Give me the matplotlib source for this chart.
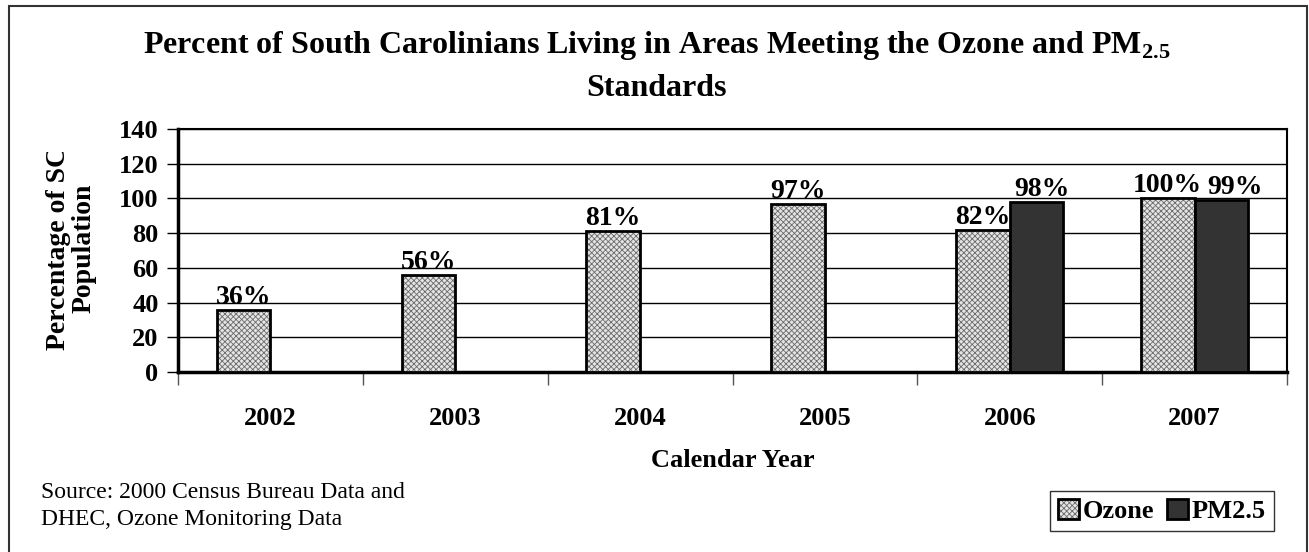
import numpy as np
import matplotlib.pyplot as plt
from matplotlib.patches import Rectangle
from matplotlib.transforms import Bbox

# data
years = ["2002", "2003", "2004", "2005", "2006", "2007"]
ozone = [36, 56, 81, 97, 82, 100]
pm25 = [None, None, None, None, 98, 99]
yticks = [0, 20, 40, 60, 80, 100, 120, 140]

plt.rcParams['font.family'] = ['Liberation Serif', 'DejaVu Serif']
plt.rcParams['font.weight'] = 'bold'
plt.rcParams['mathtext.fontset'] = 'custom'
plt.rcParams['mathtext.rm'] = 'Liberation Serif:bold'
plt.rcParams['hatch.linewidth'] = 0.6

W, H = 1309, 552
fig = plt.figure(figsize=(W / 100, H / 100), dpi=100)
ax = fig.add_axes([178 / W, 1 - 372 / H, (1287 - 178) / W, (372 - 129) / H])

x = np.arange(len(years)) + 0.5
bw = 0.29

# ozone: hatched fill + black outline on top
oz_fill = ax.bar(x - bw / 2, ozone, bw, color='#e4e4e4', edgecolor='#6a6a6a',
                 hatch='xxxxxx', linewidth=0, zorder=3)
oz_edge = ax.bar(x - bw / 2, ozone, bw, fill=False, edgecolor='black',
                 linewidth=2, zorder=4)
pm_idx = [i for i, v in enumerate(pm25) if v is not None]
pm_vals = [pm25[i] for i in pm_idx]
pm_bars = ax.bar(x[pm_idx] + bw / 2, pm_vals, bw, color='#333333',
                 edgecolor='black', linewidth=2, zorder=4)

for xi, v in zip(x - bw / 2, ozone):
    ax.annotate(f"{v}%", (xi, v), xytext=(0, 0), textcoords='offset pixels',
                ha='center', va='bottom', fontsize=20, fontweight='bold', zorder=5)
for i, (xi, v) in enumerate(zip(x[pm_idx] + bw / 2, pm_vals)):
    # excel nudges the last label right so it clears its neighbour
    dx = 14 if i == len(pm_vals) - 1 else 5
    ax.annotate(f"{v}%", (xi, v), xytext=(dx, 0), textcoords='offset pixels',
                ha='center', va='bottom', fontsize=20, fontweight='bold', zorder=5)

ax.set_xlim(0, len(years))
ax.set_ylim(0, 140)
ax.set_yticks(yticks)
ax.set_yticklabels([str(t) for t in yticks], fontsize=19, fontweight='bold')
ax.yaxis.grid(True, color='black', linewidth=1)
ax.set_axisbelow(True)
ax.tick_params(axis='y', direction='out', length=8, width=1, pad=6)

# year labels between the category boundary ticks
ax.set_xticks(np.arange(len(years) + 1))
ax.set_xticklabels([])
ax.tick_params(axis='x', direction='out', length=9, width=1, color='#555555')
ax.set_xticks(x, minor=True)
ax.set_xticklabels(years, minor=True, fontsize=19, fontweight='bold')
ax.tick_params(axis='x', which='minor', length=0, pad=25)

for side in ['left', 'bottom']:
    ax.spines[side].set_linewidth(2.5)
ax.spines['top'].set_linewidth(1.5)
ax.spines['right'].set_linewidth(1.5)

ax.set_xlabel("Calendar Year", fontsize=19, fontweight='bold', labelpad=14)

ylab = fig.text(71 / W, 1 - 248 / H, "Percentage of SC\nPopulation", rotation=90,
                ha='center', va='center', fontsize=20, fontweight='bold',
                linespacing=1.05)
ylab.set_clip_box(Bbox.from_extents(0, 0, W, H - 152))
ylab.set_clip_on(True)

fig.text(657 / W, 1 - 45 / H,
         "Percent of South Carolinians Living in Areas Meeting the Ozone and PM$_{2.5}$",
         ha='center', va='center', fontsize=23, fontweight='bold')
fig.text(657 / W, 1 - 88 / H, "Standards", ha='center', va='center',
         fontsize=23, fontweight='bold')

fig.text(41 / W, 1 - 506 / H, "Source: 2000 Census Bureau Data and\nDHEC, Ozone Monitoring Data",
         ha='left', va='center', fontsize=17, fontweight='normal', linespacing=1.4)

leg = fig.legend([(oz_fill, oz_edge), pm_bars], ["Ozone", "PM2.5"],
                 loc='center', bbox_to_anchor=(1162 / W, 1 - 511 / H), ncol=2,
                 prop={'size': 19, 'weight': 'bold'}, frameon=True, fancybox=False,
                 edgecolor='black', handlelength=0.77, handleheight=0.77,
                 handletextpad=0.15, columnspacing=0.5, borderpad=0.3,
                 borderaxespad=0)
leg.get_frame().set_linewidth(1)

fig.patches.append(Rectangle((9 / W, -0.05), (1307 - 9) / W, 1.05 - 6 / H,
                             transform=fig.transFigure, fill=False,
                             edgecolor='#333333', linewidth=1.5))

fig.savefig("out.png", dpi=100)
